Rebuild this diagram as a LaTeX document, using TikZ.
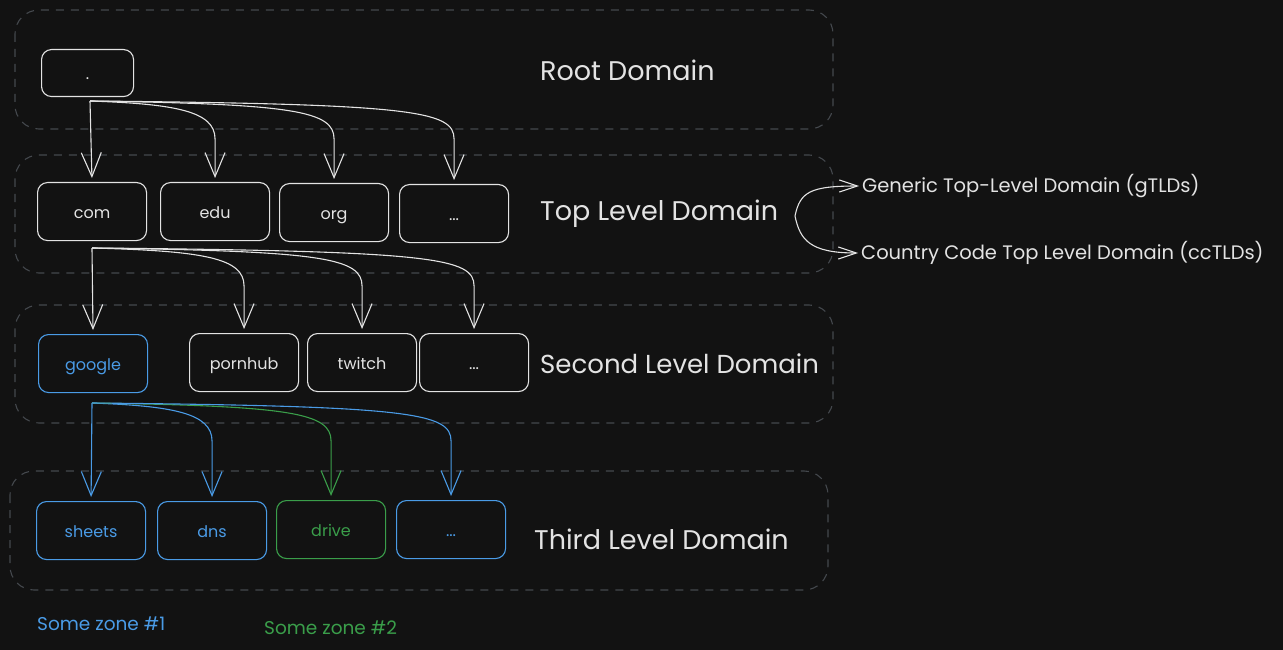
\documentclass[tikz,border=0pt]{standalone}
\usepackage{fontspec}
\setmainfont{Poppins}
\usetikzlibrary{arrows.meta,calc}
\definecolor{bg}{HTML}{121212}
\definecolor{ink}{HTML}{E3E3E3}
\definecolor{grp}{HTML}{44484D}
\definecolor{zblue}{HTML}{4A9BE6}
\definecolor{zgreen}{HTML}{3A9E4A}
\tikzset{
  dbox/.style={draw=ink, text=ink, line width=1.1pt, rounded corners=10pt,
    minimum width=109pt, minimum height=58pt, inner sep=0pt,
    text height=14pt, text depth=1pt, font=\fontsize{16}{18}\selectfont, anchor=north west},
  grpbox/.style={draw=grp, line width=1.1pt, rounded corners=24pt, dash pattern=on 8pt off 7pt},
  lbl/.style={text=ink, anchor=west, inner sep=0pt, font=\fontsize{27}{30}\selectfont},
  slbl/.style={text=ink, anchor=west, inner sep=0pt, font=\fontsize{19.5}{22}\selectfont},
  zlbl/.style={anchor=west, inner sep=0pt, font=\fontsize{18.5}{21}\selectfont},
  conn/.style={draw=ink, line width=1.1pt, -{Straight Barb[length=24pt,width=20pt]}, shorten >=4pt},
  sweep/.style={to path={(\tikztostart) .. controls ($(\tikztostart -| \tikztotarget)+(-#1,3)$) and ($(\tikztostart -| \tikztotarget)+(0,10)$) .. ($(\tikztostart -| \tikztotarget)+(0,38)$) -- (\tikztotarget) \tikztonodes}},
  sweep/.default=40
}
\begin{document}
\begin{tikzpicture}[x=1pt,y=-1pt]
\fill[bg] (0,0) rectangle (1283,650);
\useasboundingbox (0,0) rectangle (1283,650);

% groups
\draw[grpbox] (15,10) rectangle (833,129);
\draw[grpbox] (15,155) rectangle (833,273);
\draw[grpbox] (15,305) rectangle (833,423);
\draw[grpbox] (10,471) rectangle (828,590);

% root
\node[dbox, minimum width=92pt, minimum height=47pt] (root) at (41,49) {.};

% TLD
\node[dbox] (com) at (37,182) {com};
\node[dbox] (edu) at (160,182) {edu};
\node[dbox] (org) at (279,183) {org};
\node[dbox] (tdots) at (399,184) {...};

% SLD
\node[dbox, draw=zblue, text=zblue] (google) at (38,334) {google};
\node[dbox] (pornhub) at (189,333) {pornhub};
\node[dbox] (twitch) at (307,333) {twitch};
\node[dbox] (sdots) at (419,333) {...};

% third
\node[dbox, draw=zblue, text=zblue] (sheets) at (36,501) {sheets};
\node[dbox, draw=zblue, text=zblue] (dns) at (157,501) {dns};
\node[dbox, draw=zgreen, text=zgreen] (drive) at (276,500) {drive};
\node[dbox, draw=zblue, text=zblue] (thdots) at (396,500) {...};

% level labels
\node[lbl] (rootlbl) at (540,70) {Root Domain};
\node[lbl] (tldlbl) at (540,214) {Top Level Domain};
\node[lbl, font=\fontsize{26}{29}\selectfont] (sldlbl) at (540,364) {Second Level Domain};
\node[lbl] (thlbl) at (534,539) {Third Level Domain};

\node[slbl] (gtld) at (862,186) {Generic Top-Level Domain (gTLDs)};
\node[slbl] (cctld) at (861,253) {Country Code Top Level Domain (ccTLDs)};

\node[zlbl, text=zblue] (zone1) at (37,624) {Some zone \#1};
\node[zlbl, text=zgreen] (zone2) at (264,628) {Some zone \#2};

% connectors root -> TLD
\coordinate (rootout) at (90,101);
\draw[conn] (rootout) -- (com.north);
\draw[conn] (rootout) to[sweep] (edu.north);
\draw[conn] (rootout) to[sweep] (org.north);
\draw[conn] (rootout) to[sweep] (tdots.north);

% com -> SLD
\coordinate (comout) at (92,248);
\draw[conn] (comout) -- (google.north);
\draw[conn] (comout) to[sweep] (pornhub.north);
\draw[conn] (comout) to[sweep] (twitch.north);
\draw[conn] (comout) to[sweep] (sdots.north);

% google -> third
\coordinate (gout) at (92,403);
\draw[conn, draw=zblue] (gout) -- (sheets.north);
\draw[conn, draw=zblue] (gout) to[sweep] (dns.north);
\draw[conn, draw=zgreen] (gout) to[sweep] (drive.north);
\draw[conn, draw=zblue] (gout) to[sweep] (thdots.north);

% brace arrows
\coordinate (bk) at (795,216);
\draw[draw=ink, line width=1.1pt, -{Straight Barb[length=18pt,width=12pt]}, shorten >=3pt]
  (bk) .. controls (800,192) and (810,186) .. (gtld.west);
\draw[draw=ink, line width=1.1pt, -{Straight Barb[length=18pt,width=12pt]}, shorten >=3pt]
  (bk) .. controls (800,240) and (810,253) .. (cctld.west);
\end{tikzpicture}
\end{document}
